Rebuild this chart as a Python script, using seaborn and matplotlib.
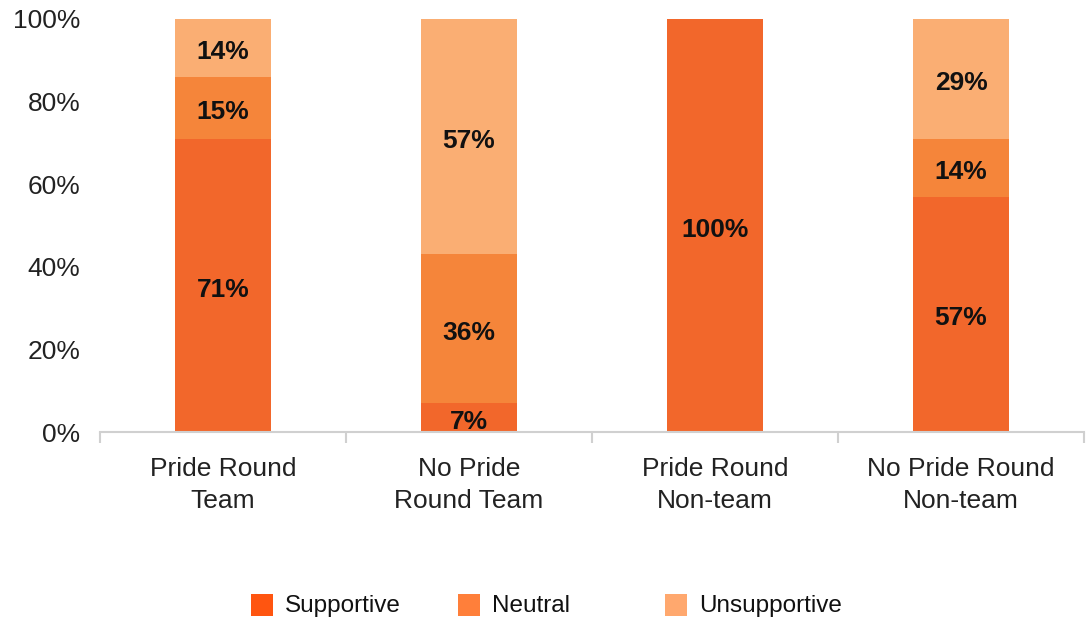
import matplotlib
matplotlib.use("Agg")
import matplotlib.pyplot as plt
from matplotlib.patches import Rectangle
from matplotlib.ticker import FixedLocator
import numpy as np
import pandas as pd
import seaborn as sns

# Survey responses by group (percent of respondents)
groups = ["Pride Round\nTeam", "No Pride\nRound Team", "Pride Round\nNon-team", "No Pride Round\nNon-team"]
supportive = [71, 7, 100, 57]
neutral = [15, 36, 0, 14]
unsupportive = [14, 57, 0, 29]
series_names = ["Supportive", "Neutral", "Unsupportive"]
yticks = [0, 20, 40, 60, 80, 100]

bar_colors = ["#F2672B", "#F5853A", "#FAAE73"]
legend_colors = ["#FF5510", "#FF7F3A", "#FFA86E"]

sns.set_theme(style="white")
plt.rcParams["font.family"] = ["Liberation Sans", "DejaVu Sans"]

W, H = 1089, 618
fig = plt.figure(figsize=(W / 100, H / 100), dpi=100)
ax = fig.add_axes([100 / W, 1 - 432 / H, (1084 - 100) / W, (432 - 19) / H])

df = pd.DataFrame({"group": groups, "Supportive": supportive,
                   "Neutral": neutral, "Unsupportive": unsupportive})
layers = [df[s].to_numpy() for s in series_names]
cum = np.cumsum(layers, axis=0)

# Stack by drawing cumulative totals from the top layer down
for i in reversed(range(3)):
    sns.barplot(x=df["group"], y=cum[i], color=bar_colors[i], saturation=1,
                width=0.39, ax=ax, linewidth=0)

# Segment value labels
for j in range(len(groups)):
    base = 0
    for i in range(3):
        v = layers[i][j]
        if v > 0:
            ax.text(j, base + v / 2 - 1, f"{v}%", ha="center", va="center",
                    fontsize=19, fontweight="bold", color="#111111")
        base += v

ax.set_xlim(-0.5, 3.5)
ax.set_ylim(0, 100)
ax.set_yticks(yticks)
ax.set_yticklabels([f"{t}%" for t in yticks])
ax.set_xlabel("")
ax.set_ylabel("")
for s in ["top", "right", "left"]:
    ax.spines[s].set_visible(False)
ax.spines["bottom"].set_color("#D0D0D0")
ax.spines["bottom"].set_linewidth(1.5)

ax.tick_params(axis="y", length=0, pad=14, labelsize=19, labelcolor="#222222")
ax.tick_params(axis="x", which="major", length=0, pad=18, labelsize=19, labelcolor="#222222")
ax.xaxis.set_minor_locator(FixedLocator([-0.5, 0.5, 1.5, 2.5, 3.5]))
ax.tick_params(axis="x", which="minor", length=8, width=1.5, color="#D0D0D0", bottom=True)
for lbl in ax.get_xticklabels():
    lbl.set_linespacing(1.4)

# Legend row along the bottom
sq = 22
for k, name in enumerate(series_names):
    x0 = 251 + k * 207
    fig.patches.append(Rectangle((x0 / W, 1 - 616 / H), sq / W, sq / H,
                                 transform=fig.transFigure, facecolor=legend_colors[k],
                                 edgecolor="none"))
    fig.text((x0 + 34) / W, 1 - 606 / H, name, ha="left", va="center",
             fontsize=17.5, color="#111111")

fig.savefig("out.png", dpi=100)
